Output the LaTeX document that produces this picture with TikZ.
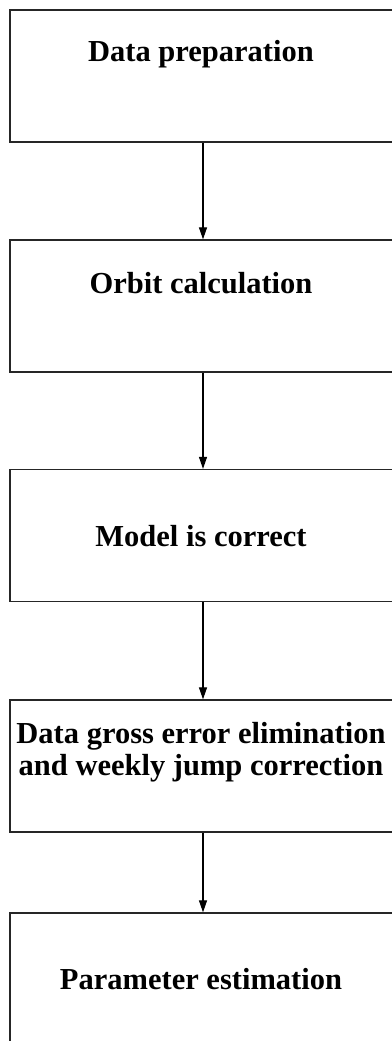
\documentclass[tikz,border=0pt]{standalone}
\usepackage{fontspec}
\setmainfont{Liberation Serif}
\usetikzlibrary{arrows.meta}
\begin{document}
\begin{tikzpicture}[x=1pt,y=-1pt,
  stepbox/.style={draw=black!85, line width=1.3pt, rectangle,
    minimum width=386pt, minimum height=132pt, inner sep=0pt},
  steptext/.style={inner sep=0pt, align=center,
    font=\fontsize{30.5}{32}\selectfont\bfseries},
  flow/.style={draw=black, line width=1.2pt,
    -{Triangle[length=12pt,width=8pt]}}]
  \useasboundingbox (0,0) rectangle (391,1041);
  \fill[white] (0,0) rectangle (391,1041);

  % boxes
  \node[stepbox] (prep)  at (203,76)    {};
  \node[stepbox] (orbit) at (203,306)   {};
  \node[stepbox] (model) at (203,535.5) {};
  \node[stepbox] (gross) at (203,766)   {};
  \node[stepbox] (param) at (203,979)   {};

  % captions
  \node[steptext] (preptext)  at (201,54)  {Data preparation};
  \node[steptext] (orbittext) at (201,283) {Orbit calculation};
  \node[steptext] (modeltext) at (201,536) {Model is correct};
  \node[steptext] (grosstext) at (201,752) {Data gross error elimination\\and weekly jump correction};
  \node[steptext] (paramtext) at (201,979) {Parameter estimation};

  % connectors
  \draw[flow] (prep)  -- (orbit);
  \draw[flow] (orbit) -- (model);
  \draw[flow] (model) -- (gross);
  \draw[flow] (gross) -- (param);
\end{tikzpicture}
\end{document}
